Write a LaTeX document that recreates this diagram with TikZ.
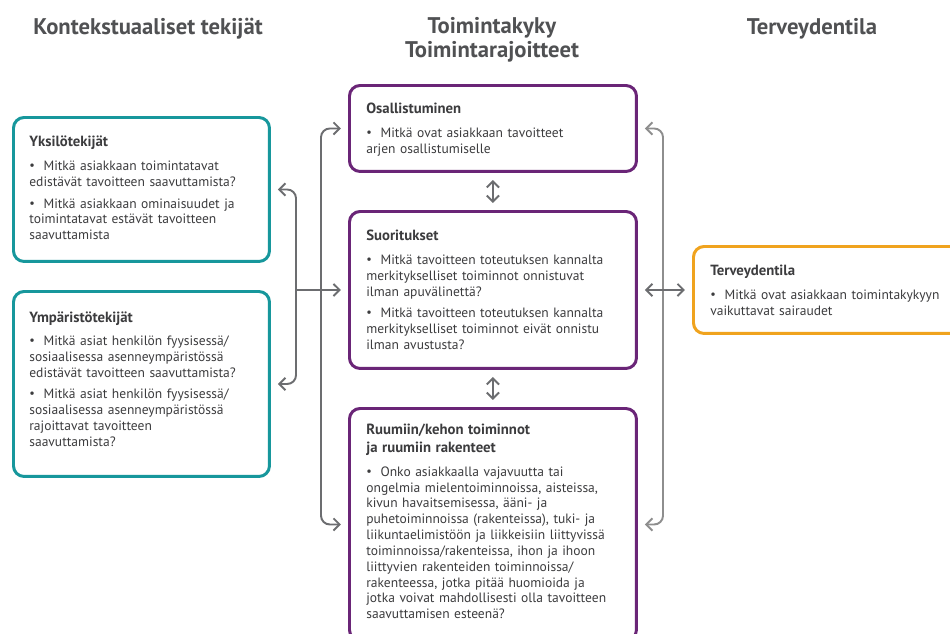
\documentclass[tikz,border=0pt]{standalone}
\usepackage{fontspec}
\setmainfont{PT Sans}
\usetikzlibrary{arrows.meta}

\definecolor{turkoosi}{HTML}{17979C}
\definecolor{violetti}{HTML}{6A2577}
\definecolor{oranssi}{HTML}{F0A31E}
\definecolor{harmaa}{HTML}{6C6D70}
\definecolor{vaaleaharmaa}{HTML}{8E8E8E}
\definecolor{otsikko}{HTML}{505153}
\definecolor{teksti}{HTML}{3C3C3E}

% luettelon kohta riippuvalla sisennyksella
\newcommand{\kohta}[1]{\par\hangindent=1.05em\hangafter=1\noindent
  \makebox[1.05em][l]{\raisebox{0.15ex}{\scriptsize\textbullet}}#1\par\vspace{3.2pt}}
\newcommand{\otsake}[1]{{\fontsize{8.4}{10}\selectfont\textbf{#1}\par}\vspace{4.6pt}}

\begin{document}
\begin{tikzpicture}[x=0.02cm,y=-0.02cm,
  laatikko/.style={draw, line width=1.7pt, rounded corners=6pt, fill=white,
    anchor=north west, inner sep=0pt},
  sisalto/.style={anchor=north west, inner sep=0pt, text width=5.4cm, align=left,
    text=teksti, font=\fontsize{7.7}{9}\selectfont},
  paaotsikko/.style={text=otsikko, align=center, font=\fontsize{12.9}{13.5}\selectfont\bfseries},
  yhteys/.style={draw=harmaa, line width=1.1pt, rounded corners=5pt,
    arrows={-Straight Barb[length=3.5pt,width=7pt]}, shorten >=4pt},
  kaksi/.style={yhteys, arrows={Straight Barb[length=3.5pt,width=7pt]-Straight Barb[length=3.5pt,width=7pt]}, shorten <=4pt}]

\useasboundingbox (0,0) rectangle (950,633);
\clip (0,0) rectangle (950,633);

%otsikot
\node[paaotsikko] (tkont) at (148,29) {Kontekstuaaliset tekijät};
\node[paaotsikko] (ttoim) at (492,40) {Toimintakyky\\Toimintarajoitteet};
\node[paaotsikko] (tterv) at (812,29) {Terveydentila};

%kontekstuaaliset tekijat
\node[laatikko, draw=turkoosi, minimum width=5.12cm, minimum height=2.88cm] (yksilo) at (12,116) {};
\node[sisalto] (yksiloteksti) at (29,136) {\otsake{Yksilötekijät}
  \kohta{Mitkä asiakkaan toimintatavat\\edistävät tavoitteen saavuttamista?}
  \kohta{Mitkä asiakkaan ominaisuudet ja\\toimintatavat estävät tavoitteen\\saavuttamista}};

\node[laatikko, draw=turkoosi, minimum width=5.12cm, minimum height=3.70cm] (ymparisto) at (12,290) {};
\node[sisalto] (ymparistoteksti) at (29,311) {\otsake{Ympäristötekijät}
  \kohta{Mitkä asiat henkilön fyysisessä/\\sosiaalisessa asenneympäristössä\\edistävät tavoitteen saavuttamista?}
  \kohta{Mitkä asiat henkilön fyysisessä/\\sosiaalisessa asenneympäristössä\\rajoittavat tavoitteen\\saavuttamista?}};

%toimintakyky
\node[laatikko, draw=violetti, minimum width=5.74cm, minimum height=1.72cm] (osall) at (348,84) {};
\node[sisalto] (osallteksti) at (366,103) {\otsake{Osallistuminen}
  \kohta{Mitkä ovat asiakkaan tavoitteet\\arjen osallistumiselle}};

\node[laatikko, draw=violetti, minimum width=5.74cm, minimum height=3.14cm] (suor) at (348,210) {};
\node[sisalto] (suorteksti) at (366,230) {\otsake{Suoritukset}
  \kohta{Mitkä tavoitteen toteutuksen kannalta\\merkitykselliset toiminnot onnistuvat\\ilman apuvälinettä?}
  \kohta{Mitkä tavoitteen toteutuksen kannalta\\merkitykselliset toiminnot eivät onnistu\\ilman avustusta?}};

\node[laatikko, draw=violetti, minimum width=5.74cm, minimum height=4.64cm] (ruumis) at (348,407) {};
\node[sisalto] (ruumisteksti) at (366,424) {\otsake{Ruumiin/kehon toiminnot\\ja ruumiin rakenteet}
  \kohta{Onko asiakkaalla vajavuutta tai\\ongelmia mielentoiminnoissa, aisteissa,\\kivun havaitsemisessa, ääni- ja\\puhetoiminnoissa (rakenteissa), tuki- ja\\liikuntaelimistöön ja liikkeisiin liittyvissä\\toiminnoissa/rakenteissa, ihon ja ihoon\\liittyvien rakenteiden toiminnoissa/\\rakenteessa, jotka pitää huomioida ja\\jotka voivat mahdollisesti olla tavoitteen\\saavuttamisen esteenä?}};

%terveydentila
\node[laatikko, draw=oranssi, minimum width=5.40cm, minimum height=1.74cm] (terveys) at (692,245) {};
\node[sisalto] (terveysteksti) at (710,265) {\otsake{Terveydentila}
  \kohta{Mitkä ovat asiakkaan toimintakykyyn\\vaikuttavat sairaudet}};

%yhteydet
\coordinate (vasen1) at (296,290);
\coordinate (vasen2) at (321,290);
\coordinate (oikea) at (663,290);
\draw[kaksi] (yksilo.east) -| (vasen1) |- (ymparisto.east);
\draw[yhteys] (vasen1) -- (suor.west);
\draw[kaksi] (osall.west) -| (vasen2) |- (ruumis.west);
\draw[kaksi, draw=vaaleaharmaa] (osall.east) -| (oikea) |- (ruumis.east);
\draw[kaksi] (suor.east) -- (terveys.west);
\draw[kaksi] (osall.south) -- (suor.north);
\draw[kaksi] (suor.south) -- (ruumis.north);

\end{tikzpicture}
\end{document}
